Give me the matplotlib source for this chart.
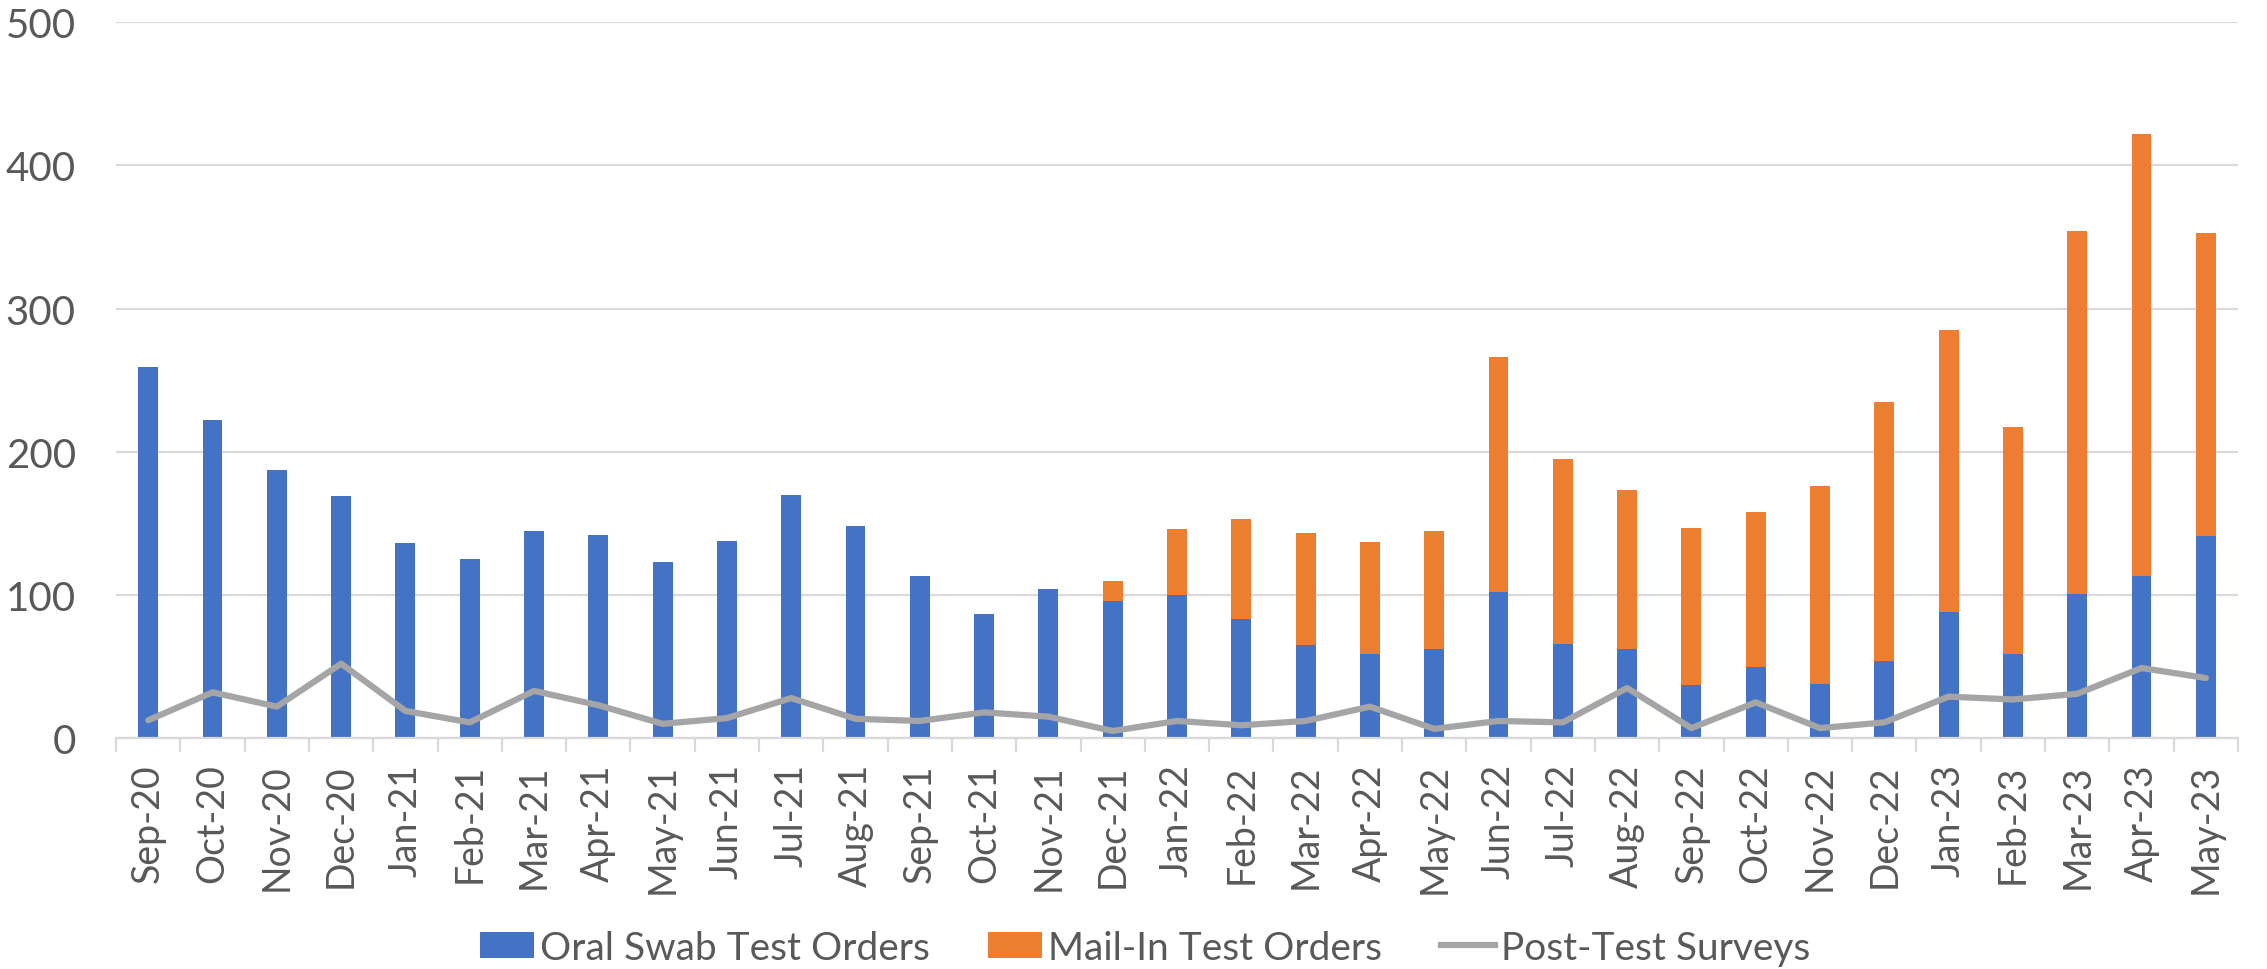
import matplotlib
matplotlib.use("Agg")
import matplotlib.pyplot as plt
from matplotlib.lines import Line2D
from matplotlib.patches import Patch
import numpy as np

months = ["Sep-20", "Oct-20", "Nov-20", "Dec-20", "Jan-21", "Feb-21", "Mar-21", "Apr-21",
          "May-21", "Jun-21", "Jul-21", "Aug-21", "Sep-21", "Oct-21", "Nov-21", "Dec-21",
          "Jan-22", "Feb-22", "Mar-22", "Apr-22", "May-22", "Jun-22", "Jul-22", "Aug-22",
          "Sep-22", "Oct-22", "Nov-22", "Dec-22", "Jan-23", "Feb-23", "Mar-23", "Apr-23", "May-23"]

oral_swab = [259, 222, 187, 169, 136, 125, 145, 142, 123, 138, 170, 148, 113, 87, 104, 96,
             100, 83, 65, 59, 62, 102, 66, 62, 37, 50, 38, 54, 88, 59, 101, 113, 141]

mail_in = [0, 0, 0, 0, 0, 0, 0, 0, 0, 0, 0, 0, 0, 0, 0, 14,
           46, 70, 78, 78, 83, 164, 129, 111, 110, 108, 138, 181, 197, 158, 253, 309, 212]

surveys = [12.5, 32, 22, 52, 19, 11, 33, 23, 10, 14, 28, 13.5, 12, 18, 15, 5,
           12, 9, 12, 22, 6.5, 12, 11, 35, 7, 25, 7, 11, 29, 27, 31, 49, 42]

series_names = ["Oral Swab Test Orders", "Mail-In Test Orders", "Post-Test Surveys"]
yticks = [0, 100, 200, 300, 400, 500]

BLUE = "#4472C4"
ORANGE = "#ED7D31"
GRAY = "#A5A5A5"
GRID = "#D9D9D9"
TEXT = "#595959"

plt.rcParams['font.family'] = ['Lato', 'DejaVu Sans']

fig = plt.figure(figsize=(22.67, 9.70), dpi=100)
ax = fig.add_axes([0.0512, 0.238, 0.936, 0.738])

x = np.arange(len(months))
w = 0.31
ax.bar(x, oral_swab, width=w, color=BLUE, zorder=2)
ax.bar(x, mail_in, width=w, bottom=oral_swab, color=ORANGE, zorder=2)
ax.plot(x, surveys, color=GRAY, linewidth=4.5, solid_joinstyle="round",
        solid_capstyle="round", zorder=3)

ax.set_xlim(-0.5, len(months) - 0.5)
ax.set_ylim(0, 500)
ax.set_yticks(yticks)
ax.set_yticklabels([str(v) for v in yticks])
ax.yaxis.grid(True, color=GRID, linewidth=1.6, zorder=0)
ax.set_axisbelow(True)

for s in ["top", "right", "left"]:
    ax.spines[s].set_visible(False)
ax.spines["bottom"].set_color(GRID)
ax.spines["bottom"].set_linewidth(1.6)

ax.tick_params(axis="y", length=0, pad=29, labelsize=29, labelcolor=TEXT)
ax.set_xticks(x)
ax.set_xticklabels(months, rotation=90)
ax.tick_params(axis="x", which="major", length=0, pad=18, labelsize=27, labelcolor=TEXT)
ax.set_xticks(np.arange(-0.5, len(months), 1.0), minor=True)
ax.tick_params(axis="x", which="minor", length=10, width=1.6, color=GRID)

handles = [Patch(facecolor=BLUE), Patch(facecolor=ORANGE),
           Line2D([0], [0], color=GRAY, linewidth=4.5)]
fig.legend(handles, series_names, loc="center", bbox_to_anchor=(0.505, 0.022), ncol=3,
           frameon=False, fontsize=28, labelcolor=TEXT, handlelength=1.4,
           handleheight=0.65, handletextpad=0.15, columnspacing=1.5)

fig.savefig("out.png", dpi=100)
